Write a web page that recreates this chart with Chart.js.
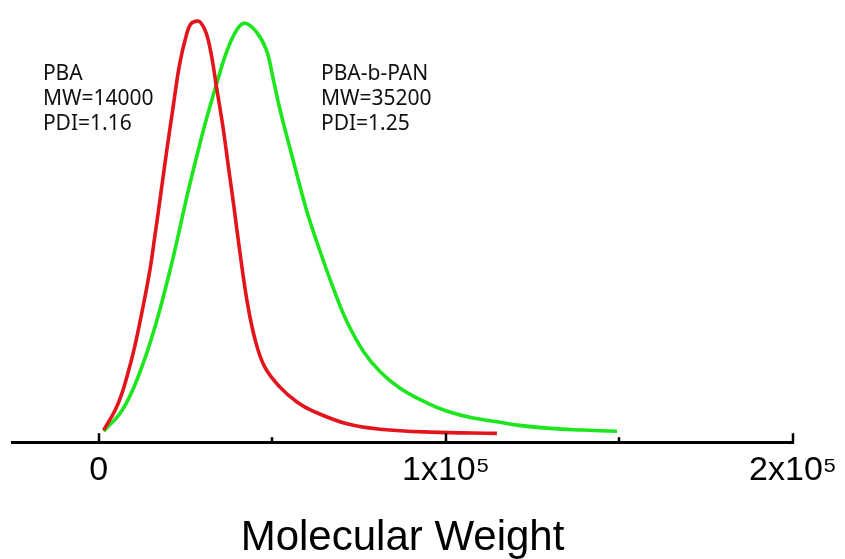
<!DOCTYPE html>
<html>
<head>
<meta charset="utf-8">
<script src="https://cdn.jsdelivr.net/npm/chart.js@4/dist/chart.umd.min.js"></script>
<style>
    html, body { margin: 0; padding: 0; background: #fff; }
</style>
</head>
<body>
<canvas id="myChart" width="845" height="559"></canvas>
<script>
// @ts-check

// PBA (red) - molecular weight distribution
const pbaMW = [1400, 4600, 6600, 8400, 10400, 12400, 14700, 16100, 17600, 19500,
    21400, 23300, 25300, 26500, 28200, 29400, 31000, 32500, 33900, 35700,
    37500, 38900, 40600, 42700, 45000, 47800, 52200, 57100, 61700, 71500,
    81000, 95400, 114700];
const pbaSignal = [0.010, 0.056, 0.097, 0.148, 0.214, 0.294, 0.396, 0.476, 0.566, 0.682,
    0.791, 0.896, 0.968, 0.993, 1.0, 0.996, 0.970, 0.915, 0.841, 0.748,
    0.638, 0.553, 0.444, 0.323, 0.230, 0.163, 0.114, 0.078, 0.056, 0.025,
    0.012, 0.005, 0.002];

// PBA-b-PAN (green)
const pbanMW = [1400, 6600, 11200, 16100, 21000, 25600, 29100, 31000, 33900, 36800,
    39700, 42100, 45400, 48300, 50200, 52200, 56000, 59900, 63700, 67500,
    71400, 76200, 81000, 86700, 93500, 100200, 107900, 115600, 120500, 130000,
    139500, 149300];
const pbanSignal = [0.007, 0.056, 0.136, 0.257, 0.413, 0.583, 0.702, 0.763, 0.847, 0.925,
    0.978, 0.995, 0.974, 0.930, 0.862, 0.786, 0.663, 0.541, 0.444, 0.355,
    0.274, 0.201, 0.152, 0.112, 0.080, 0.056, 0.039, 0.029, 0.022, 0.014,
    0.010, 0.007];

const majorTicks = [0, 100000, 200000];
const majorTickLabels = ['0', '1x10\u2075', '2x10\u2075'];
const minorTicks = [50000, 150000];

const annotations = [
    { x: -16100, y: 0.857, lines: ['PBA', 'MW=14000', 'PDI=1.16'] },
    { x: 64000, y: 0.857, lines: ['PBA-b-PAN', 'MW=35200', 'PDI=1.25'] },
];

/**
 * Zip two arrays into {x, y} points
 * @param {number[]} xs
 * @param {number[]} ys
 */
function toPoints(xs, ys) {
    return xs.map((x, i) => ({ x: x, y: ys[i] }));
}

// tick marks point up into the plot, plus the two text notes
const axisDecor = {
    id: 'axisDecor',
    afterDraw(chart) {
        const { ctx, scales } = chart;
        const x = scales.x;
        const y = scales.y;
        const base = chart.chartArea.bottom;
        ctx.save();
        ctx.strokeStyle = '#000';
        ctx.lineWidth = 2.5;
        for (const v of majorTicks) {
            const px = Math.round(x.getPixelForValue(v));
            ctx.beginPath();
            ctx.moveTo(px, base);
            ctx.lineTo(px, base - 9);
            ctx.stroke();
        }
        for (const v of minorTicks) {
            const px = Math.round(x.getPixelForValue(v));
            ctx.beginPath();
            ctx.moveTo(px, base);
            ctx.lineTo(px, base - 5);
            ctx.stroke();
        }
        ctx.fillStyle = '#111';
        ctx.font = '21px "Noto Sans"';
        ctx.textBaseline = 'alphabetic';
        ctx.textAlign = 'left';
        for (const a of annotations) {
            const px = x.getPixelForValue(a.x);
            const py = y.getPixelForValue(a.y);
            a.lines.forEach((line, i) => ctx.fillText(line, px, py + i * 25));
        }
        ctx.restore();
    }
};

function renderChart() {
    const ctx = document.getElementById('myChart');
    new Chart(ctx, {
        type: 'line',
        data: {
            datasets: [{
                label: 'PBA',
                data: toPoints(pbaMW, pbaSignal),
                borderColor: '#e3141c',
                borderWidth: 3.6,
                pointRadius: 0,
                tension: 0.4,
                fill: false
            }, {
                label: 'PBA-b-PAN',
                data: toPoints(pbanMW, pbanSignal),
                borderColor: '#1ee61e',
                borderWidth: 3.6,
                pointRadius: 0,
                tension: 0.4,
                fill: false
            }]
        },
        options: {
            responsive: false,
            animation: false,
            layout: { padding: { left: 12, right: 52, top: 5, bottom: 0 } },
            plugins: {
                legend: { display: false },
                tooltip: { enabled: false }
            },
            scales: {
                x: {
                    type: 'linear',
                    min: -25000,
                    max: 200000,
                    afterBuildTicks: (scale) => {
                        scale.ticks = majorTicks.map((v) => ({ value: v }));
                    },
                    grid: { display: false, drawTicks: false },
                    border: { display: true, color: '#000', width: 3 },
                    ticks: {
                        padding: 8,
                        maxRotation: 0,
                        autoSkip: false,
                        color: '#000',
                        font: { family: '"Liberation Sans", Arial, sans-serif', size: 34 },
                        callback: (value) => majorTickLabels[majorTicks.indexOf(Number(value))]
                    },
                    title: {
                        display: true,
                        text: 'Molecular Weight',
                        color: '#000',
                        font: { family: '"Liberation Sans", Arial, sans-serif', size: 42, lineHeight: 1.0 },
                        padding: { top: 18, bottom: 0 }
                    }
                },
                y: {
                    display: false,
                    min: -0.0194,
                    max: 1.039
                }
            }
        },
        plugins: [axisDecor]
    });
}

renderChart();
</script>
</body>
</html>
